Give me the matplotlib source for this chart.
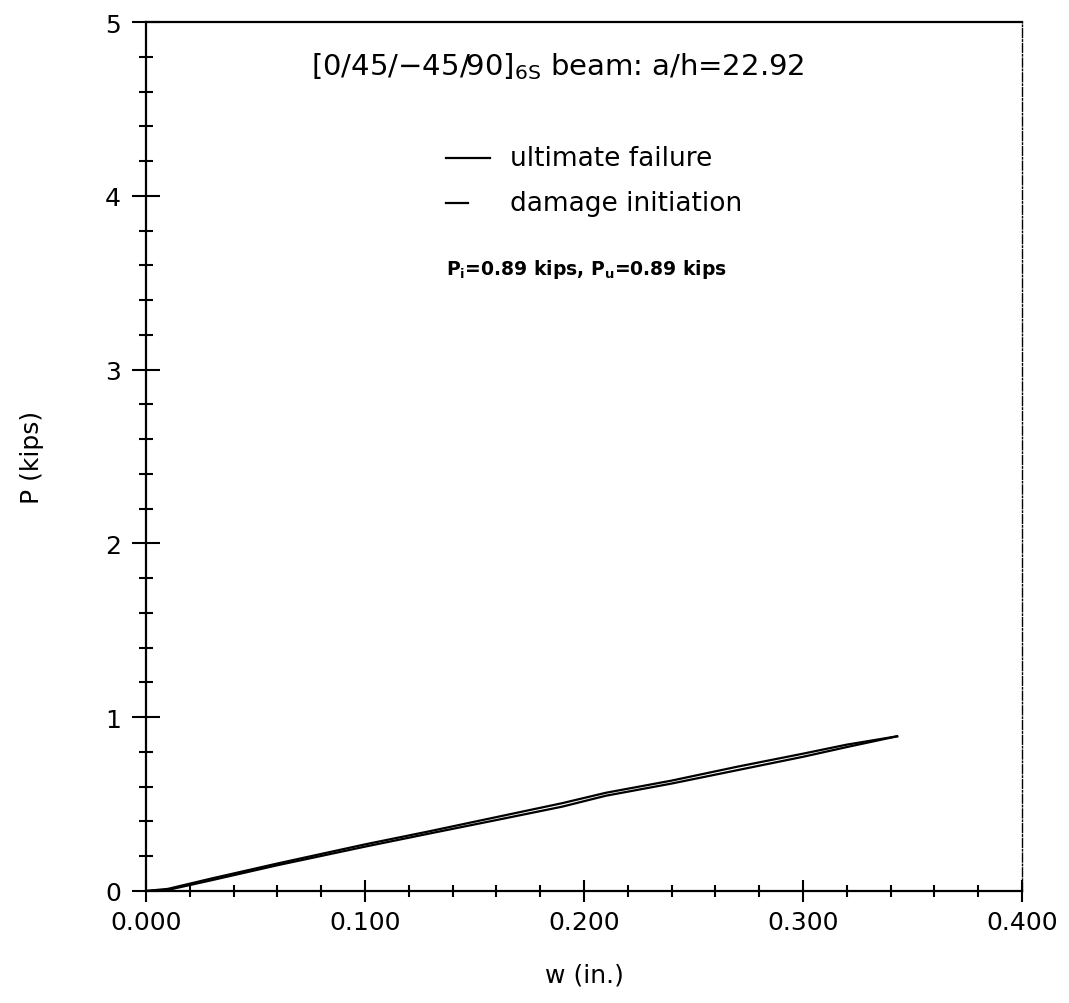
import numpy as np
import matplotlib
matplotlib.use('Agg')
import matplotlib.pyplot as plt
from matplotlib.ticker import MultipleLocator

plt.rcParams['font.family'] = 'DejaVu Sans'
plt.rcParams['mathtext.fontset'] = 'dejavusans'

# load-deflection readings (w in inches, P in kips)
w_ultimate = [0.0, 0.01, 0.03, 0.06, 0.10, 0.13, 0.16, 0.19, 0.21, 0.24, 0.27, 0.30, 0.32, 0.343]
p_ultimate = [0.0, 0.012, 0.072, 0.158, 0.268, 0.345, 0.425, 0.505, 0.565, 0.635, 0.715, 0.79, 0.842, 0.89]
w_damage = [0.0, 0.01, 0.03, 0.06, 0.10, 0.13, 0.16, 0.19, 0.21, 0.24, 0.27, 0.30, 0.32, 0.343]
p_damage = [0.0, 0.006, 0.062, 0.148, 0.255, 0.332, 0.408, 0.485, 0.548, 0.618, 0.695, 0.772, 0.828, 0.89]

x_ticks = [0.0, 0.1, 0.2, 0.3, 0.4]
x_labels = ['0.000', '0.100', '0.200', '0.300', '0.400']
y_ticks = [0, 1, 2, 3, 4, 5]

fig = plt.figure(figsize=(10.69, 10.04), dpi=100)
ax = fig.add_axes([0.1366, 0.1116, 0.8194, 0.8654])

ax.plot(w_ultimate, p_ultimate, color='black', lw=1.6)
ax.plot(w_damage, p_damage, color='black', lw=1.6)

ax.set_xlim(0, 0.4)
ax.set_ylim(0, 5)
ax.set_xticks(x_ticks)
ax.set_xticklabels(x_labels)
ax.set_yticks(y_ticks)
ax.xaxis.set_minor_locator(MultipleLocator(0.02))
ax.yaxis.set_minor_locator(MultipleLocator(0.2))

ax.tick_params(axis='x', which='major', direction='inout', length=16, width=1.5,
               labelsize=18, pad=6)
ax.tick_params(axis='x', which='minor', direction='inout', length=8, width=1.5)
ax.tick_params(axis='y', which='major', direction='inout', length=20, width=1.5,
               labelsize=18, pad=8)
ax.tick_params(axis='y', which='minor', direction='inout', length=10, width=1.5)

for side in ['left', 'bottom', 'top']:
    ax.spines[side].set_linewidth(1.6)
ax.spines['right'].set_linewidth(1.0)
ax.spines['right'].set_linestyle('-.')

ax.set_xlabel('w (in.)', fontsize=18, labelpad=20)
ax.set_ylabel('P (kips)', fontsize=18, labelpad=44)

# title inside the frame
ax.text(0.47, 0.968, r'$[0/45/{-}45/90]_{\mathrm{6S}}$ beam: a/h=22.92',
        transform=ax.transAxes, ha='center', va='top', fontsize=21)

# hand-drawn legend
ax.plot([0.137, 0.157], [4.22, 4.22], color='black', lw=1.6)
ax.plot([0.137, 0.147], [3.96, 3.96], color='black', lw=1.6)
ax.text(0.166, 4.22, 'ultimate failure', fontsize=19, va='center')
ax.text(0.166, 3.96, 'damage initiation', fontsize=19, va='center')

ax.text(0.137, 3.58, r'$\mathbf{P_i}$=0.89 kips, $\mathbf{P_u}$=0.89 kips',
        fontsize=13.5, fontweight='bold', va='center')

fig.savefig('out.png', dpi=100)
